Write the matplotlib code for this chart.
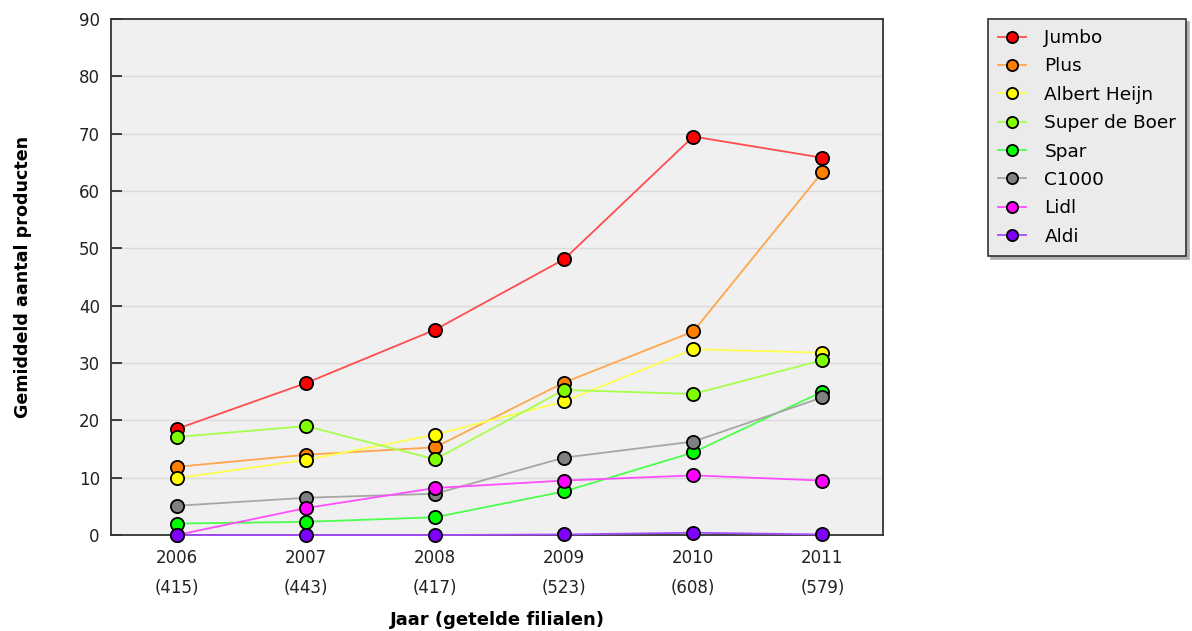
import numpy as np
import matplotlib
matplotlib.use("Agg")
import matplotlib.pyplot as plt
from matplotlib.colors import to_rgb

years = ["2006", "2007", "2008", "2009", "2010", "2011"]
counted = ["415", "443", "417", "523", "608", "579"]

chains = ["Jumbo", "Plus", "Albert Heijn", "Super de Boer", "Spar", "C1000", "Lidl", "Aldi"]
jumbo = [18.5, 26.5, 35.8, 48.1, 69.5, 65.8]
plus = [11.9, 14.0, 15.3, 26.6, 35.5, 63.3]
albert_heijn = [9.9, 13.1, 17.5, 23.3, 32.4, 31.8]
super_de_boer = [17.1, 19.0, 13.2, 25.3, 24.6, 30.5]
spar = [2.0, 2.3, 3.1, 7.6, 14.4, 25.0]
c1000 = [5.1, 6.5, 7.2, 13.5, 16.3, 24.0]
lidl = [0.0, 4.7, 8.2, 9.5, 10.4, 9.5]
aldi = [0.0, 0.0, 0.0, 0.1, 0.4, 0.1]
series = [jumbo, plus, albert_heijn, super_de_boer, spar, c1000, lidl, aldi]
colors = ["#ff0000", "#ff8000", "#ffff00", "#80ff00", "#00ff00", "#808080", "#ff00ff", "#8000ff"]


def lighten(c, amount=0.3):
    r, g, b = to_rgb(c)
    return (r + (1 - r) * amount, g + (1 - g) * amount, b + (1 - b) * amount)


fig = plt.figure(figsize=(11.92, 6.31), dpi=100)
ax = fig.add_axes([0.0931, 0.1521, 0.6477, 0.8178])
ax.set_facecolor("#f0f0f0")

x = np.arange(len(years))
for name, vals, col in zip(chains, series, colors):
    ax.plot(x, vals, color=lighten(col), lw=1.3, marker="o", markersize=9.5,
            markerfacecolor=col, markeredgecolor="black", markeredgewidth=1.3,
            label=name, zorder=3, clip_on=False)

ax.set_xlim(-0.51, 5.47)
ax.set_ylim(0, 90)
ax.set_yticks(range(0, 91, 10))
ax.set_xticks(x)
ax.set_xticklabels([f"{y}\n({c})" for y, c in zip(years, counted)], linespacing=1.85)
ax.yaxis.grid(True, color="#dadada", lw=1)
ax.set_axisbelow(True)
ax.tick_params(axis="both", direction="in", length=8, width=1.2, colors="#222222",
               labelsize=12, labelcolor="#222222", pad=8)
ax.tick_params(axis="x", length=0, pad=10)
for s in ax.spines.values():
    s.set_color("#333333")
    s.set_linewidth(1.3)

ax.set_ylabel("Gemiddeld aantal producten", fontsize=12.6, fontweight="bold", labelpad=34)
ax.set_xlabel("Jaar (getelde filialen)", fontsize=13, fontweight="bold", labelpad=10)

leg = fig.legend(loc="upper left", bbox_to_anchor=(0.8289, 0.9699), borderaxespad=0,
                 fontsize=13.3, frameon=True, fancybox=False, edgecolor="#333333",
                 facecolor="#ebebeb", framealpha=1, shadow={"color": "#b0b0b0", "alpha": 1},
                 handlelength=1.5, labelspacing=0.56, borderpad=0.55, handletextpad=1.0,
                 markerscale=0.85)
leg.get_frame().set_linewidth(1.2)

fig.savefig("out.png", dpi=100)
